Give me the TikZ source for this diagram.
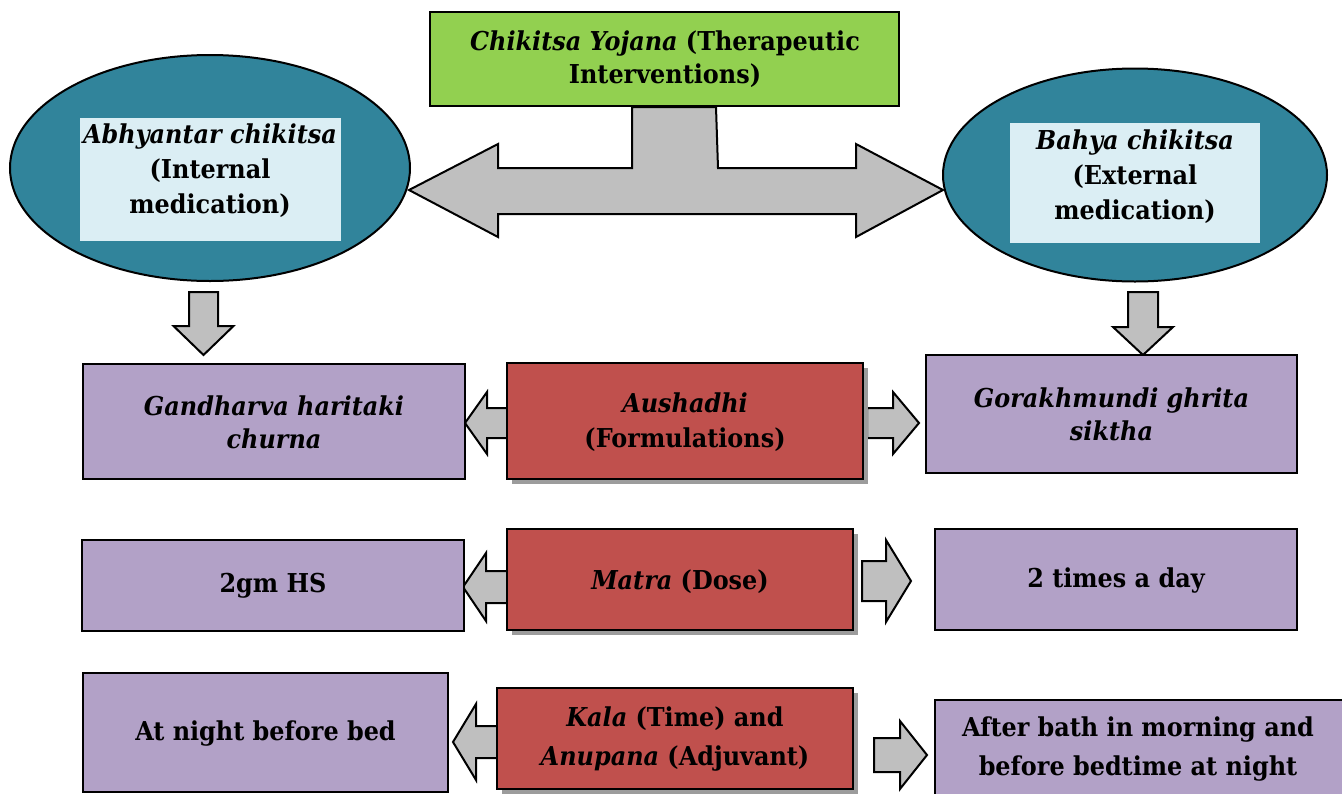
\documentclass[tikz,border=0pt]{standalone}
\usepackage{fontspec}
\setmainfont{DejaVu Serif}[FakeStretch=0.92]
\usetikzlibrary{shapes.geometric,shadows}
\definecolor{cgreen}{HTML}{92D050}
\definecolor{cteal}{HTML}{31849B}
\definecolor{clight}{HTML}{DBEEF4}
\definecolor{cpurple}{HTML}{B2A1C7}
\definecolor{cred}{HTML}{C0504D}
\definecolor{carrow}{HTML}{BFBFBF}
\definecolor{cshadow}{HTML}{9C9C9C}
\tikzset{
  txt/.style={font=\bfseries\fontsize{26}{33}\selectfont, align=center, text=black},
  ovtxt/.style={font=\bfseries\fontsize{26}{35}\selectfont, align=center, text=black},
  bigtxt/.style={font=\bfseries\fontsize{26}{39}\selectfont, align=center, text=black},
  basebox/.style={draw=black, line width=2pt, inner sep=0pt},
  greenbox/.style={basebox, fill=cgreen},
  purplebox/.style={basebox, fill=cpurple},
  redbox/.style={basebox, fill=cred, drop shadow={shadow xshift=5pt, shadow yshift=-5pt, fill=cshadow, opacity=1}},
  oval/.style={ellipse, draw=black, line width=2pt, fill=cteal, inner sep=0pt},
  lightbox/.style={fill=clight, inner sep=0pt},
  blk/.style={draw=black, line width=2pt, fill=carrow, line join=miter},
}
% horizontal block arrow: tail x, head-base x, tip x, centre y, shaft half, head half
\newcommand{\hblock}[6]{%
  \draw[blk] (#1,#4-#5) -- (#2,#4-#5) -- (#2,#4-#6) -- (#3,#4) -- (#2,#4+#6) -- (#2,#4+#5) -- (#1,#4+#5) -- cycle;}
% vertical block arrow: centre x, top y, head-base y, tip y, shaft half, head half
\newcommand{\vblock}[6]{%
  \draw[blk] (#1-#5,#2) -- (#1-#5,#3) -- (#1-#6,#3) -- (#1,#4) -- (#1+#6,#3) -- (#1+#5,#3) -- (#1+#5,#2) -- cycle;}
\begin{document}
\begin{tikzpicture}[x=1pt,y=-1pt]
\clip (0,0) rectangle (1342,793);
\fill[white] (0,0) rectangle (1342,793);

% big T arrow
\draw[blk] (632,107) -- (632,168) -- (498,168) -- (498,144) -- (409,190) -- (498,237) -- (498,214)
  -- (856,214) -- (856,237) -- (943,190) -- (856,144) -- (856,168) -- (718,168) -- (716,107) -- cycle;

% top
\node[greenbox, minimum width=469, minimum height=94] (top) at (664.5,59) {};
\node[txt] (toptxt) at (665,59) {\textit{Chikitsa Yojana} (Therapeutic\\Interventions)};

% ellipses
\node[oval, minimum width=400, minimum height=226] (lov) at (210,168) {};
\node[lightbox, minimum width=261, minimum height=123] (lin) at (210.5,179.5) {};
\node[ovtxt] (ltxt) at (210,171) {\textit{Abhyantar chikitsa}\\(Internal\\medication)};

\node[oval, minimum width=384, minimum height=213] (rov) at (1135,175) {};
\node[lightbox, minimum width=250, minimum height=120] (rin) at (1135,183) {};
\node[ovtxt] (rtxt) at (1135,177) {\textit{Bahya chikitsa}\\(External\\medication)};

% down arrows
\vblock{203.5}{292}{326}{355}{14.5}{30}
\vblock{1143}{292}{327}{355}{15}{30}

% row 1
\hblock{510}{487}{465}{423}{15}{31}
\hblock{867}{893}{919}{423}{15}{31}
\node[purplebox, minimum width=382, minimum height=115] (f1) at (274,421.5) {};
\node[txt] (f1t) at (274,422) {\textit{Gandharva haritaki}\\\textit{churna}};
\node[redbox, minimum width=356, minimum height=116] (a1) at (685,421) {};
\node[ovtxt] (a1t) at (685,422) {\textit{Aushadhi}\\(Formulations)};
\node[purplebox, minimum width=371, minimum height=118] (g1) at (1111.5,414) {};
\node[txt] (g1t) at (1111.5,414) {\textit{Gorakhmundi ghrita}\\\textit{siktha}};

% row 2
\hblock{510}{486}{463}{587}{16}{34}
\hblock{862}{886}{911}{581}{20}{41}
\node[purplebox, minimum width=382, minimum height=91] (f2) at (273,585.5) {};
\node[txt] (f2t) at (273,586) {2gm HS};
\node[redbox, minimum width=346, minimum height=101] (a2) at (680,579.5) {};
\node[txt] (a2t) at (680,582) {\textit{Matra} (Dose)};
\node[purplebox, minimum width=362, minimum height=101] (g2) at (1116,579.5) {};
\node[txt] (g2t) at (1116,581) {2 times a day};

% row 3
\hblock{500}{476}{453}{742}{16}{38}
\hblock{874}{900}{927}{755}{17}{34}
\node[purplebox, minimum width=365, minimum height=119] (f3) at (265.5,732.5) {};
\node[txt] (f3t) at (265.5,734) {At night before bed};
\node[redbox, minimum width=356, minimum height=101] (a3) at (675,738.5) {};
\node[bigtxt] (a3t) at (675,739) {\textit{Kala} (Time) and\\\textit{Anupana} (Adjuvant)};
\node[purplebox, minimum width=420, minimum height=120] (g3) at (1145,760) {};
\node[bigtxt] (g3t) at (1138,749) {After bath in morning and\\before bedtime at night};
\end{tikzpicture}
\end{document}
